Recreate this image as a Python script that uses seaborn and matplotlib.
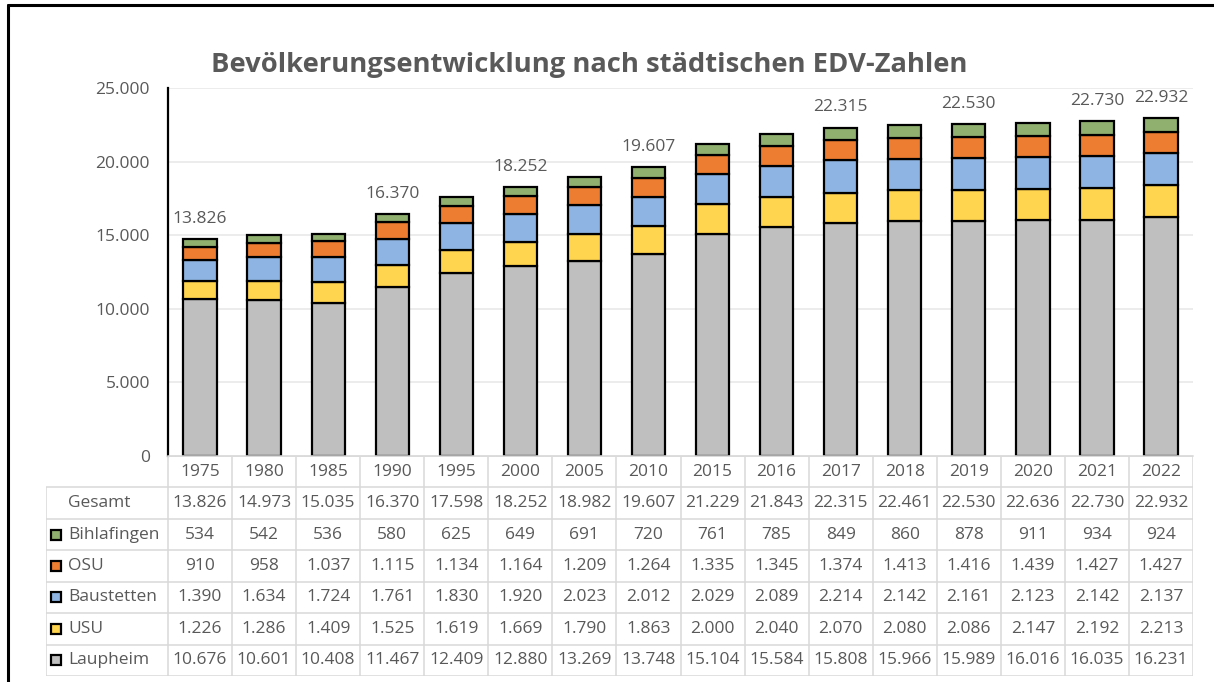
import matplotlib
matplotlib.use("Agg")
import matplotlib.pyplot as plt
from matplotlib.lines import Line2D
from matplotlib.ticker import FuncFormatter
import seaborn as sns
import numpy as np

# ---------------- data ----------------
years = ["1975", "1980", "1985", "1990", "1995", "2000", "2005", "2010",
         "2015", "2016", "2017", "2018", "2019", "2020", "2021", "2022"]
gesamt = [13826, 14973, 15035, 16370, 17598, 18252, 18982, 19607,
          21229, 21843, 22315, 22461, 22530, 22636, 22730, 22932]
laupheim = [10676, 10601, 10408, 11467, 12409, 12880, 13269, 13748,
            15104, 15584, 15808, 15966, 15989, 16016, 16035, 16231]
usu = [1226, 1286, 1409, 1525, 1619, 1669, 1790, 1863,
       2000, 2040, 2070, 2080, 2086, 2147, 2192, 2213]
baustetten = [1390, 1634, 1724, 1761, 1830, 1920, 2023, 2012,
              2029, 2089, 2214, 2142, 2161, 2123, 2142, 2137]
osu = [910, 958, 1037, 1115, 1134, 1164, 1209, 1264,
       1335, 1345, 1374, 1413, 1416, 1439, 1427, 1427]
bihlafingen = [534, 542, 536, 580, 625, 649, 691, 720,
               761, 785, 849, 860, 878, 911, 934, 924]
labelled_years = ["1975", "1990", "2000", "2010", "2017", "2019", "2021", "2022"]

series_names = ["Laupheim", "USU", "Baustetten", "OSU", "Bihlafingen"]
series_values = [laupheim, usu, baustetten, osu, bihlafingen]
series_colors = ["#BFBFBF", "#FFD44F", "#8DB4E2", "#ED7D31", "#8FB06F"]

title = "Bevölkerungsentwicklung nach städtischen EDV-Zahlen"


def fmt(v):
    return f"{int(v):,}".replace(",", ".")


# ---------------- styling ----------------
sns.set_style("white")
plt.rcParams["font.family"] = ["Open Sans", "DejaVu Sans"]
TXT = "#595959"
GRID = "#D9D9D9"
FS = 12.5

W, H = 1214, 682
fig = plt.figure(figsize=(W / 100, H / 100), dpi=100)


def px_rect(x0, y0, x1, y1):
    return [x0 / W, 1 - y1 / H, (x1 - x0) / W, (y1 - y0) / H]


# main chart axes
ax = fig.add_axes(px_rect(168, 88, 1193, 456))

bottom = np.zeros(len(years))
for name, vals, col in zip(series_names, series_values, series_colors):
    sns.barplot(x=years, y=vals, order=years, bottom=bottom, color=col,
                saturation=1, width=0.52, edgecolor="black", linewidth=1.6,
                ax=ax, errorbar=None)
    bottom = bottom + np.array(vals)

ax.set_xlim(-0.5, len(years) - 0.5)
ax.set_ylim(0, 25000)
ax.set_yticks(np.arange(0, 25001, 5000))
ax.yaxis.set_major_formatter(FuncFormatter(lambda v, p: fmt(v)))
ax.tick_params(axis="y", length=0, pad=13, labelsize=FS, labelcolor=TXT)
ax.set_xticks([])
ax.set_xlabel("")
ax.set_ylabel("")
ax.grid(axis="y", color="#EBEBEB", linewidth=1.3)
ax.set_axisbelow(True)
for s in ["top", "right"]:
    ax.spines[s].set_visible(False)
ax.spines["left"].set_color("black")
ax.spines["left"].set_linewidth(1.6)
ax.spines["bottom"].set_color(GRID)
ax.spines["bottom"].set_linewidth(1.1)

# data labels (Gesamt) above selected bars
for i, y in enumerate(years):
    if y in labelled_years:
        ax.annotate(fmt(gesamt[i]), xy=(i, bottom[i]), xytext=(0, 14.5),
                    textcoords="offset points", ha="center", va="center",
                    fontsize=FS, color=TXT)

# title
fig.text(589 / W, 1 - 65 / H, title, ha="center", va="center",
         fontsize=19.7, fontweight="bold", color=TXT)

# ---------------- data table ----------------
col_w_px = (1193 - 168) / len(years)
x_left = -0.5 - (168 - 46) / col_w_px
tax = fig.add_axes(px_rect(46, 456, 1193, 676))
tax.set_xlim(x_left, len(years) - 0.5)
tax.set_ylim(7, 0)
tax.axis("off")

n = len(years)
# horizontal lines
tax.plot([-0.5, n - 0.5], [0, 0], color=GRID, lw=1.1, solid_capstyle="butt")
for r in range(1, 8):
    tax.plot([x_left, n - 0.5], [r, r], color=GRID, lw=1.1, solid_capstyle="butt")
# vertical lines
for c in range(n + 1):
    tax.plot([c - 0.5, c - 0.5], [0, 7], color=GRID, lw=1.1, solid_capstyle="butt")
tax.plot([x_left, x_left], [1, 7], color=GRID, lw=1.1, solid_capstyle="butt")

# header row: years
for i, y in enumerate(years):
    tax.text(i, 0.5, y, ha="center", va="center", fontsize=FS, color=TXT)

row_names = ["Gesamt"] + series_names[::-1]
row_values = [gesamt] + series_values[::-1]
row_colors = [None] + series_colors[::-1]
key_x = x_left + (56 - 46) / col_w_px
text_x = x_left + (68 - 46) / col_w_px
for r, (nm, vals, colr) in enumerate(zip(row_names, row_values, row_colors), start=1):
    yc = r + 0.5
    if colr is not None:
        tax.plot([key_x], [yc], marker="s", markersize=7.2, markerfacecolor=colr,
                 markeredgecolor="black", markeredgewidth=1.6, linestyle="none")
    tax.text(text_x, yc, nm, ha="left", va="center", fontsize=FS, color=TXT)
    for i, v in enumerate(vals):
        tax.text(i, yc, fmt(v), ha="center", va="center", fontsize=FS, color=TXT)

# outer chart border (top and left visible)
fig.add_artist(Line2D([8 / W, 1.0], [1 - 5 / H, 1 - 5 / H], transform=fig.transFigure,
                      color="black", lw=2.2))
fig.add_artist(Line2D([8 / W, 8 / W], [0, 1 - 5 / H], transform=fig.transFigure,
                      color="black", lw=2.2))

fig.savefig("out.png", dpi=100, facecolor="white")
